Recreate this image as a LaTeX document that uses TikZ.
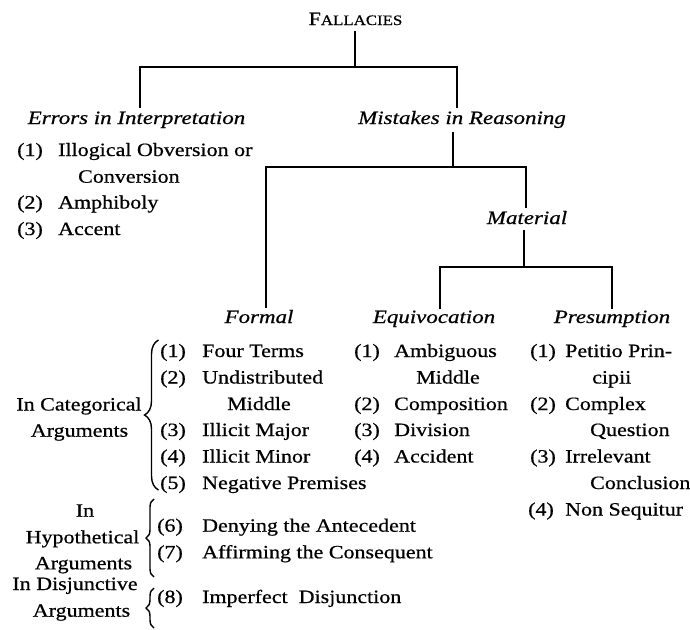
\documentclass[tikz,border=0pt]{standalone}
\usepackage{fontspec}
\setmainfont{Liberation Serif}[FakeStretch=1.17, FakeBold=0.6]
\newfontfamily\hdfont{Liberation Serif}[FakeStretch=1.22, FakeBold=0.6]
\usetikzlibrary{decorations.pathreplacing}
\newcommand\itemno[2]{\makebox[#1][l]{#2}}
\tikzset{
  txt/.style={inner sep=0pt, font=\fontsize{18.8}{22}\selectfont, anchor=base west},
  lab/.style={inner sep=0pt, font=\fontsize{18.8}{22}\selectfont, anchor=base},
  hd/.style={inner sep=0pt, font=\fontsize{18.8}{22}\selectfont\hdfont\itshape, anchor=base},
  stem/.style={line width=1.4pt},
  bar/.style={line width=2.2pt},
  brc/.style={line width=1.4pt, decorate},
}
\begin{document}
\begin{tikzpicture}[x=1pt,y=-1pt]
\useasboundingbox (0,0) rectangle (690,629);
% ---- level 0
\node[lab] (fall) at (355.5,25) {F{\fontsize{14.4}{16}\selectfont ALLACIES}};
\coordinate (j1) at (355,67);
\coordinate (j1l) at (140,67);
\coordinate (j1r) at (457,67);
\node[hd] (err) at (136.5,124) {Errors in Interpretation};
\node[hd] (mis) at (462,124) {Mistakes in Reasoning};
\draw[stem, shorten <=6pt] (fall.south -| j1) -- (j1);
\draw[bar, shorten <=3.5pt, shorten >=3pt] (j1l |- err.north) -- (j1l) -- (j1r) -- (j1r |- mis.north);
% ---- errors list
\node[txt] (e1) at (17,156) {\itemno{41pt}{(1)}Illogical Obversion or};
\node[txt] (e1b) at (78,182.7) {Conversion};
\node[txt] (e2) at (17,208.5) {\itemno{41pt}{(2)}Amphiboly};
\node[txt] (e3) at (17,235) {\itemno{41pt}{(3)}Accent};
% ---- level 2
\coordinate (j2) at (453,167);
\coordinate (j2l) at (266,167);
\coordinate (j2r) at (526,167);
\node[hd] (mat) at (527,224) {Material};
\node[hd] (form) at (259,323) {Formal};
\draw[stem, shorten <=4pt] (mis.south -| j2) -- (j2);
\draw[bar, shorten <=2pt, shorten >=3pt] (j2l |- form.north) -- (j2l) -- (j2r) -- (j2r |- mat.north);
% ---- level 3
\coordinate (j3) at (524,267);
\coordinate (j3l) at (440,267);
\coordinate (j3r) at (612,267);
\node[hd] (equ) at (434,323) {Equivocation};
\node[hd] (pre) at (612,323) {Presumption};
\draw[stem, shorten <=6pt] (mat.south -| j3) -- (j3);
\draw[bar, shorten <=1pt, shorten >=1pt] (j3l |- equ.north) -- (j3l) -- (j3r) -- (j3r |- pre.north);
% ---- formal: categorical
\node[lab] (cat1) at (79,410.5) {In Categorical};
\node[lab] (cat2) at (79.5,436.7) {Arguments};
\coordinate (cb1) at (158.5,490);
\coordinate (cb2) at (158.5,340);
\draw[brc, decoration={brace, amplitude=14pt}] (cb1) -- (cb2);
\node[txt] (f1) at (160,357) {\itemno{42pt}{(1)}Four Terms};
\node[txt] (f2) at (160,383.5) {\itemno{42pt}{(2)}Undistributed};
\node[txt] (f2b) at (227,410) {Middle};
\node[txt] (f3) at (160,436) {\itemno{42pt}{(3)}Illicit Major};
\node[txt] (f4) at (160,462.5) {\itemno{42pt}{(4)}Illicit Minor};
\node[txt] (f5) at (160,489) {\itemno{42pt}{(5)}Negative Premises};
% ---- hypothetical
\node[lab] (hyp1) at (85,516.7) {In};
\node[lab] (hyp2) at (82.5,543.3) {Hypothetical};
\node[lab] (hyp3) at (83.5,569.3) {Arguments};
\coordinate (hb1) at (154,577);
\coordinate (hb2) at (154,499);
\draw[brc, decoration={brace, amplitude=8pt}] (hb1) -- (hb2);
\node[txt] (h6) at (157,531.7) {\itemno{45pt}{(6)}Denying the Antecedent};
\node[txt] (h7) at (157,558.3) {\itemno{45pt}{(7)}Affirming the Consequent};
% ---- disjunctive
\node[lab] (dis1) at (75,590) {In Disjunctive};
\node[lab] (dis2) at (81.5,616.7) {Arguments};
\coordinate (db1) at (154,628);
\coordinate (db2) at (154,588);
\draw[brc, decoration={brace, amplitude=8pt}] (db1) -- (db2);
\node[txt] (d8) at (157,603) {\itemno{45pt}{(8)}Imperfect\ \ Disjunction};
% ---- equivocation
\node[txt] (q1) at (354,357) {\itemno{40pt}{(1)}Ambiguous};
\node[txt] (q1b) at (416,383.5) {Middle};
\node[txt] (q2) at (354,410) {\itemno{40pt}{(2)}Composition};
\node[txt] (q3) at (354,436) {\itemno{40pt}{(3)}Division};
\node[txt] (q4) at (354,462.5) {\itemno{40pt}{(4)}Accident};
% ---- presumption
\node[txt] (p1) at (530,357) {\itemno{35pt}{(1)}Petitio Prin-};
\node[txt] (p1b) at (592,383.5) {cipii};
\node[txt] (p2) at (530,410) {\itemno{35pt}{(2)}Complex};
\node[txt] (p2b) at (590,436) {Question};
\node[txt] (p3) at (530,462.5) {\itemno{35pt}{(3)}Irrelevant};
\node[txt] (p3b) at (590,489) {Conclusion};
\node[txt] (p4) at (528,515.5) {\itemno{37pt}{(4)}Non Sequitur};
\end{tikzpicture}
\end{document}
